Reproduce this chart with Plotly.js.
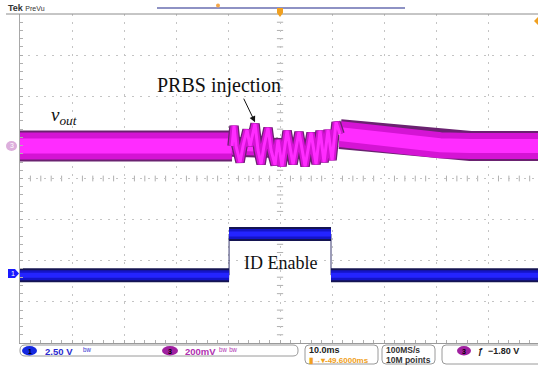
<!DOCTYPE html>
<html><head><meta charset="utf-8">
<script src="https://cdn.plot.ly/plotly-3.0.1.min.js"></script>
<style>html,body{margin:0;padding:0;background:#fff;}#plot{width:538px;height:367px;}</style>
</head><body><div id="plot"></div>
<script>
// Time in ms (10 ms/div), vertical position in divisions from screen centre
const ch3PreTime  = [-50, -30, -9.23];
const ch3PreLevel = [0.79, 0.79, 0.79];
const ch3BaseTime  = [-9.23, 0.38];
const ch3BaseLevel = [0.77, 0.74];
const ch3PrbsTime  = [-9.23,-8.85,-8.46,-7.69,-7.12,-6.35,-5.77,-4.81,-4.23,-3.65,-3.08,-2.31,-1.73,-0.96,-0.38,0.38,1.35,2.50,3.65,4.81,5.96,6.92,7.69,8.46,9.23,10.00,10.77,11.54];
const ch3PrbsLevel = [0.79,1.28,0.79,0.40,0.79,1.18,0.79,1.33,0.69,0.35,0.79,1.23,0.69,0.33,0.94,0.30,1.16,0.35,1.13,0.30,1.11,0.35,1.16,0.40,1.18,0.45,1.37,1.08];
const ch3PostTime  = [11.54, 15.38, 19.23, 23.08, 26.92, 30.77, 36.54, 42.31, 49.6];
const ch3PostLevel = [1.08, 1.01, 0.96, 0.89, 0.84, 0.81, 0.79, 0.79, 0.79];
const ch1Time  = [-50, -9.8, -9.8, 9.8, 9.8, 49.6];
const ch1Level = [-2.35, -2.35, -1.35, -1.35, -2.35, -2.35];

const MAG_OUT='#6a2270', MAG_MID='#d414d4', MAG_CORE='#ff2cff';
const traces = [];
function band(x,y,widths,colors){
  widths.forEach((w,i)=>traces.push({x:x,y:y,mode:'lines',line:{color:colors[i],width:w,shape:'linear'},hoverinfo:'skip',showlegend:false}));
}
band(ch3PreTime, ch3PreLevel, [31,27,15], [MAG_OUT,MAG_MID,MAG_CORE]);
band(ch3PostTime, ch3PostLevel, [30,26,14], [MAG_OUT,MAG_MID,MAG_CORE]);
band(ch3BaseTime, ch3BaseLevel, [20,16,8], [MAG_OUT,MAG_MID,MAG_CORE]);
band(ch3PrbsTime, ch3PrbsLevel, [9.5,7,3], [MAG_OUT,MAG_MID,MAG_CORE]);
// channel 1: thin transitions + thick levels
traces.push({x:ch1Time,y:ch1Level,mode:'lines',line:{color:'#3a3a70',width:1},hoverinfo:'skip',showlegend:false});
for(let i=0;i<ch1Time.length-1;i++){
  if(ch1Level[i]===ch1Level[i+1]){
    const xs=[ch1Time[i],ch1Time[i+1]], ys=[ch1Level[i],ch1Level[i+1]];
    band(xs, ys, [14,10,5], ['#141452','#1414c8','#2424ff']);
  }
}

const L=20,R=538,T=14,B=343;
const px=x=>(x-L)/(R-L), py=y=>(B-y)/(B-T);
const shapes=[];
// crosshair tick marks on centre lines
for(let t=-50;t<=50;t+=2){ if(t%10!==0) shapes.push({type:'line',xref:'x',yref:'y',x0:t,x1:t,y0:-0.07,y1:0.07,line:{color:'#b0b0b0',width:1},layer:'below'}); }
for(let k=-20;k<=20;k++){ const d=k*0.2; if(k%5!==0) shapes.push({type:'line',xref:'x',yref:'y',x0:-0.6,x1:0.6,y0:d,y1:d,line:{color:'#b0b0b0',width:1},layer:'below'}); }
function rrect(x0,y0,x1,y1,r,color,fill){
  const p=`M${px(x0+r)},${py(y0)} L${px(x1-r)},${py(y0)} Q${px(x1)},${py(y0)} ${px(x1)},${py(y0+r)} L${px(x1)},${py(y1-r)} Q${px(x1)},${py(y1)} ${px(x1-r)},${py(y1)} L${px(x0+r)},${py(y1)} Q${px(x0)},${py(y1)} ${px(x0)},${py(y1-r)} L${px(x0)},${py(y0+r)} Q${px(x0)},${py(y0)} ${px(x0+r)},${py(y0)} Z`;
  shapes.push({type:'path',xref:'paper',yref:'paper',path:p,line:{color:color,width:1},fillcolor:fill||'rgba(0,0,0,0)'});
}
function ell(x0,y0,x1,y1,fill){shapes.push({type:'circle',xref:'paper',yref:'paper',x0:px(x0),x1:px(x1),y0:py(y1),y1:py(y0),line:{width:0},fillcolor:fill});}
function poly(pts,fill){shapes.push({type:'path',xref:'paper',yref:'paper',path:'M'+pts.map(p=>px(p[0])+','+py(p[1])).join(' L')+' Z',line:{width:0},fillcolor:fill});}
// top decorations
shapes.push({type:'line',xref:'paper',yref:'paper',x0:px(6),x1:px(538),y0:py(14),y1:py(14),line:{color:'#8c8c8c',width:1}});
shapes.push({type:'line',xref:'paper',yref:'paper',x0:px(157),x1:px(405),y0:py(8),y1:py(8),line:{color:'#8e92c4',width:2}});
ell(216,3.5,220,7.5,'#f3a64a');
poly([[277,8],[283,8],[283,13],[280,17],[277,13]],'#f0a020');
poly([[538,17],[534,21],[538,25]],'#f0a020');
// channel markers
ell(6,141,17,151,'#dcaedc');
poly([[8,269],[15,269],[19,273.5],[15,278],[8,278]],'#1a1aff');
// status bar
rrect(20,345,298,356,5,'#9a9a9a');
ell(22,346,37,355.5,'#1428e0');
ell(162,346,178,355.5,'#a020a0');
rrect(305,345,378,364,4,'#9a9a9a');
rrect(382,345,435,364,4,'#9a9a9a');
rrect(442,345,545,364,4,'#9a9a9a');
ell(457,346,471,355.5,'#a020a0');

const sans='Liberation Sans, Arial, sans-serif', serif='Liberation Serif, Times New Roman, serif';
function txt(x,y,text,size,color,anchor,fam){return {xref:'paper',yref:'paper',x:px(x),y:py(y),text:text,showarrow:false,xanchor:anchor||'left',yanchor:'middle',font:{family:fam||sans,size:size,color:color||'#000'}};}
const ann=[
  txt(6,8,'<b>Tek</b> <span style="font-size:7px">PreVu</span>',9,'#333'),
  txt(11.5,146,'3',7,'#fff','center'),
  txt(12.5,273.5,'1',7,'#fff','center'),
  txt(29.5,351,'<b>1</b>',7,'#000','center'),
  txt(43,351,'<b>2.50 V</b>',9.5,'#2a2ad0'),
  txt(81,351,'ᵇʷ',9,'#2a2ad0'),
  txt(170,351,'<b>3</b>',7,'#000','center'),
  txt(183,351,'<b>200mV</b>',9.5,'#b030b0'),
  txt(217,351,'ᵇʷ ᵇʷ',9,'#b030b0'),
  txt(307,350,'<b>10.0ms</b>',9,'#222'),
  txt(307,360,'<b>▮→▾-49.6000ms</b>',8,'#f0a020'),
  txt(384,350,'<b>100MS/s</b>',8.5,'#333'),
  txt(384,360,'<b>10M points</b>',8.5,'#333'),
  txt(464,351,'<b>3</b>',7,'#000','center'),
  txt(476,351,'<b>ƒ  −1.80 V</b>',9,'#222'),
  {xref:'x',yref:'y',x:-11.73,y:2.27,text:'PRBS injection',showarrow:false,font:{family:serif,size:20,color:'#111'}},
  {xref:'x',yref:'y',x:-44.4,y:1.52,xanchor:'left',text:'<i>v</i><sub><i>out</i></sub>',showarrow:false,font:{family:serif,size:19,color:'#111'}},
  {xref:'x',yref:'y',x:0,y:-2.05,text:'ID Enable',showarrow:false,font:{family:serif,size:18,color:'#111'}},
  {xref:'x',yref:'y',x:-4.81,y:1.37,ax:-12,ay:-25,text:'',showarrow:true,arrowhead:2,arrowsize:1.2,arrowwidth:1,arrowcolor:'#111'}
];

const layout={
  width:538,height:367,margin:{l:20,r:0,t:14,b:24},
  paper_bgcolor:'#fff',plot_bgcolor:'#fff',showlegend:false,
  xaxis:{range:[-50,49.6],dtick:10,tick0:-50,showgrid:true,gridcolor:'#c4c4c4',griddash:'2px,6px',gridwidth:1,
    showline:true,linecolor:'#9a9a9a',linewidth:1,mirror:false,ticks:'inside',ticklen:3,tickcolor:'#aaa',
    showticklabels:false,zeroline:false,fixedrange:true,minor:{dtick:2,ticks:'inside',ticklen:3,tickcolor:'#b0b0b0',showgrid:false}},
  yaxis:{range:[-4,4],dtick:1,tick0:-4,showgrid:true,gridcolor:'#c4c4c4',griddash:'2px,6px',gridwidth:1,
    showline:true,linecolor:'#a8a8a8',linewidth:1,mirror:false,ticks:'inside',ticklen:3,tickcolor:'#aaa',
    showticklabels:false,zeroline:false,fixedrange:true,minor:{dtick:0.2,ticks:'inside',ticklen:3,tickcolor:'#b0b0b0',showgrid:false}},
  shapes:shapes,annotations:ann
};
Plotly.newPlot('plot',traces,layout,{staticPlot:true,displayModeBar:false});
</script></body></html>
